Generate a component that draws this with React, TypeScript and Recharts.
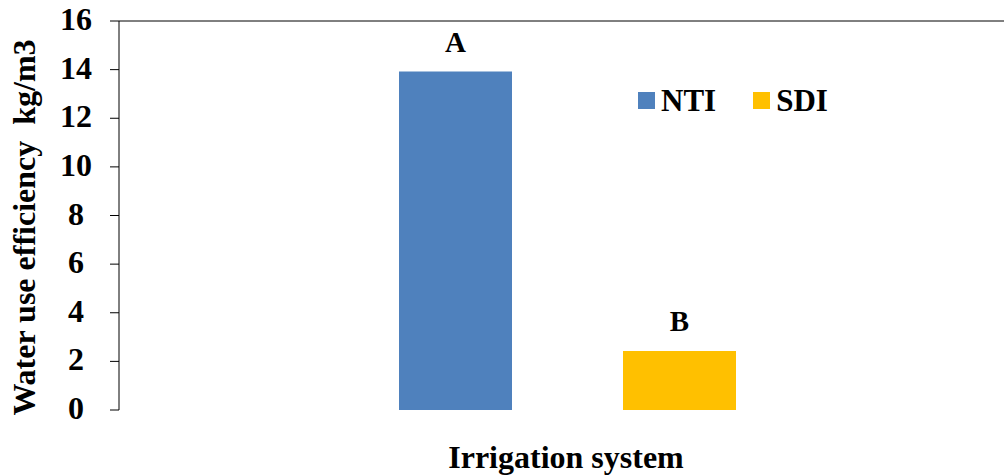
import { BarChart, Bar, XAxis, YAxis, Legend, LabelList, ReferenceLine, Label } from "recharts";

const categories = ["Irrigation system"];
const ntiValues = [13.92];
const sdiValues = [2.43];
const ntiLetters = ["A"];
const sdiLetters = ["B"];
const yTicks = [0, 2, 4, 6, 8, 10, 12, 14, 16];

const data = categories.map((name, i) => ({
  name,
  NTI: ntiValues[i],
  SDI: sdiValues[i],
  ntiLetter: ntiLetters[i],
  sdiLetter: sdiLetters[i],
}));

const FONT = '"Liberation Serif", "Times New Roman", serif';

const YTick = (props: any) => {
  const { x, y, payload } = props;
  return (
    <text x={x - 32} y={y + 9} textAnchor="middle" fontFamily={FONT} fontWeight="bold" fontSize={32} fill="#000">
      {payload.value}
    </text>
  );
};

const YTitle = (props: any) => {
  const { viewBox } = props;
  const cx = 35;
  const cy = viewBox.y + viewBox.height / 2 + 12;
  return (
    <text
      transform={`translate(${cx},${cy}) rotate(-90)`}
      textAnchor="middle"
      fontFamily={FONT}
      fontWeight="bold"
      fontSize={32}
      fill="#000"
      style={{ whiteSpace: "pre" }}
    >
      Water use efficiency  kg/m3
    </text>
  );
};

const LegendBox = (props: any) => {
  const { payload } = props;
  return (
    <div style={{ display: "flex", alignItems: "center" }}>
      {payload.map((p: any, i: number) => (
        <div key={p.value} style={{ display: "flex", alignItems: "center", marginLeft: i === 0 ? 0 : 37 }}>
          <div style={{ width: 17, height: 17, background: p.color, marginRight: 6 }} />
          <span style={{ fontFamily: FONT, fontWeight: "bold", fontSize: 31, lineHeight: "31px", color: "#000" }}>
            {p.value}
          </span>
        </div>
      ))}
    </div>
  );
};

export default function App() {
  return (
    <div style={{ position: "absolute", left: 0, top: 0, width: 1004, height: 475, background: "#fff" }}>
      <BarChart
        width={1004}
        height={475}
        data={data}
        margin={{ top: 21, right: 0, left: 0, bottom: 65 }}
        barSize={113}
        barGap={111}
      >
        <XAxis
          dataKey="name"
          tick={false}
          tickLine={false}
          height={0}
          axisLine={{ stroke: "#000" }}
          padding={{ left: 12, right: 0 }}
        />
        <YAxis
          width={119}
          domain={[0, 16]}
          ticks={yTicks}
          interval={0}
          tickSize={9}
          tick={YTick}
          axisLine={{ stroke: "#000" }}
          tickLine={{ stroke: "#000" }}
        >
          <Label content={YTitle} />
        </YAxis>
        <ReferenceLine y={16} stroke="#000" />
        <Legend
          layout="horizontal"
          verticalAlign="middle"
          align="center"
          content={LegendBox}
          wrapperStyle={{ left: 638, top: 85, width: "auto" }}
        />
        <Bar dataKey="NTI" name="NTI" fill="#4F81BD" isAnimationActive={false}>
          <LabelList dataKey="ntiLetter" position="top" offset={20} fill="#000" fontFamily={FONT} fontWeight="bold" fontSize={29} />
        </Bar>
        <Bar dataKey="SDI" name="SDI" fill="#FFC000" isAnimationActive={false}>
          <LabelList dataKey="sdiLetter" position="top" offset={20} fill="#000" fontFamily={FONT} fontWeight="bold" fontSize={29} />
        </Bar>
      </BarChart>
      <div
        style={{
          position: "absolute",
          left: 366,
          top: 441,
          width: 400,
          textAlign: "center",
          fontFamily: FONT,
          fontWeight: "bold",
          fontSize: 32,
          lineHeight: "32px",
          color: "#000",
        }}
      >
        {categories[0]}
      </div>
    </div>
  );
}
